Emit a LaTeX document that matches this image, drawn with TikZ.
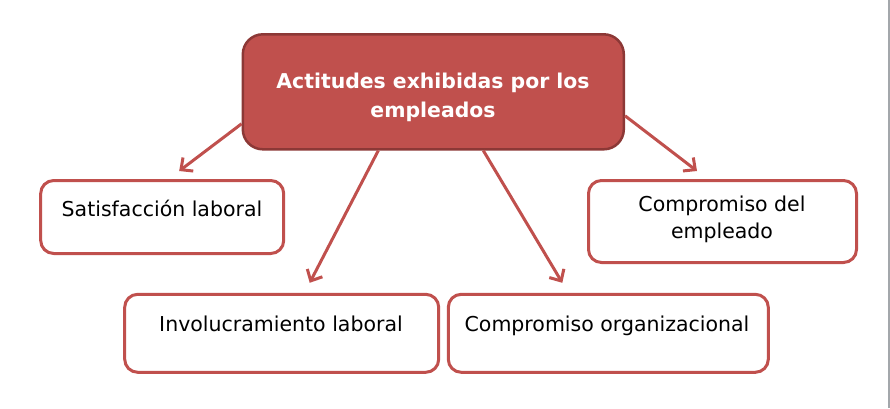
\documentclass[tikz,border=0pt]{standalone}
\usepackage{fontspec}
\setmainfont{DejaVu Sans}
\usetikzlibrary{arrows.meta}
\definecolor{redfill}{HTML}{C0504D}
\definecolor{rededge}{HTML}{8C3836}
\definecolor{edgegray}{HTML}{A3A7AB}
\tikzset{
  mainbox/.style={draw=rededge, line width=2.5pt, fill=redfill, rounded corners=20pt, inner sep=0pt},
  subbox/.style={draw=redfill, line width=3pt, fill=white, rounded corners=13pt, inner sep=0pt},
  titletxt/.style={text=white, font=\bfseries\fontsize{20.4}{28.4}\selectfont, align=center, inner sep=0pt},
  bodytxt/.style={text=black, font=\fontsize{20.5}{27}\selectfont, align=center, inner sep=0pt},
  arr/.style={draw=redfill, line width=3pt, -{Straight Barb[length=9pt, width=17pt, line width=3pt]}},
}
\begin{document}
\begin{tikzpicture}[x=1pt, y=-1pt]
\useasboundingbox (0,0) rectangle (890,408);
\draw[edgegray, line width=2pt] (889,0) -- (889,408);

\node[mainbox, minimum width=381pt, minimum height=115pt] (cent) at (433.3,91.8) {};
\node[titletxt] (centT) at (433,97.2) {Actitudes exhibidas por los\\empleados};

\node[subbox, minimum width=243pt, minimum height=73pt] (sat) at (162.2,217) {};
\node[bodytxt, anchor=base] (satT) at (162,216) {Satisfacción laboral};

\node[subbox, minimum width=268pt, minimum height=82pt] (emp) at (722.5,221.5) {};
\node[bodytxt] (empT) at (722,219.1) {Compromiso del\\empleado};

\node[subbox, minimum width=314pt, minimum height=78pt] (inv) at (281.7,333.3) {};
\node[bodytxt, anchor=base] (invT) at (281,331.7) {Involucramiento laboral};

\node[subbox, minimum width=320pt, minimum height=78pt] (org) at (608.3,333.3) {};
\node[bodytxt, anchor=base] (orgT) at (607,331.7) {Compromiso organizacional};

\draw[arr] ([yshift=-32pt]cent.west) -- ([xshift=17pt, yshift=8pt]sat.north);
\draw[arr] ([xshift=-55pt]cent.south) -- ([xshift=28pt, yshift=10pt]inv.north);
\draw[arr] ([xshift=50pt]cent.south) -- ([xshift=-46pt, yshift=10pt]org.north);
\draw[arr] ([yshift=-24pt]cent.east) -- ([xshift=-25.5pt, yshift=8pt]emp.north);
\end{tikzpicture}
\end{document}
